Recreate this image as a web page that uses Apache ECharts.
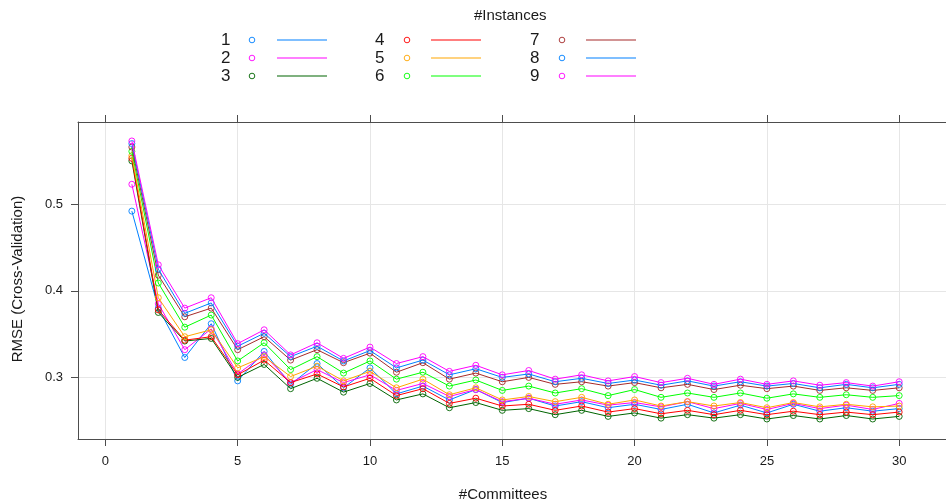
<!DOCTYPE html>
<html><head><meta charset="utf-8">
<script src="https://cdn.jsdelivr.net/npm/echarts@6/dist/echarts.min.js"></script>
<style>html,body{margin:0;padding:0;background:#fff}#c{width:946px;height:504px}</style>
</head><body><div id="c"></div>
<script>
const committees = [1,2,3,4,5,6,7,8,9,10,11,12,13,14,15,16,17,18,19,20,21,22,23,24,25,26,27,28,29,30];
const instanceNames = ['1','2','3','4','5','6','7','8','9'];
const rmse1 = [0.492,0.380,0.323,0.362,0.296,0.330,0.292,0.316,0.288,0.311,0.281,0.290,0.274,0.286,0.271,0.276,0.267,0.272,0.265,0.269,0.263,0.269,0.259,0.268,0.259,0.269,0.261,0.265,0.261,0.264];
const rmse2 = [0.523,0.385,0.332,0.356,0.304,0.326,0.294,0.309,0.294,0.303,0.285,0.293,0.278,0.286,0.272,0.276,0.269,0.274,0.268,0.271,0.266,0.272,0.264,0.270,0.263,0.270,0.264,0.268,0.263,0.270];
const rmse3 = [0.550,0.375,0.342,0.345,0.300,0.315,0.287,0.299,0.283,0.293,0.274,0.281,0.265,0.271,0.262,0.264,0.257,0.262,0.255,0.259,0.253,0.257,0.253,0.257,0.252,0.256,0.252,0.256,0.252,0.255];
const rmse4 = [0.553,0.378,0.343,0.347,0.303,0.320,0.294,0.304,0.289,0.299,0.279,0.287,0.270,0.276,0.267,0.269,0.262,0.267,0.260,0.264,0.258,0.262,0.257,0.262,0.257,0.261,0.257,0.260,0.257,0.260];
const rmse5 = [0.556,0.392,0.347,0.355,0.311,0.324,0.301,0.313,0.296,0.307,0.288,0.298,0.280,0.288,0.274,0.278,0.272,0.277,0.269,0.274,0.267,0.272,0.267,0.271,0.265,0.271,0.266,0.269,0.266,0.267];
const rmse6 = [0.561,0.409,0.358,0.372,0.319,0.340,0.309,0.324,0.305,0.319,0.298,0.306,0.290,0.297,0.285,0.290,0.282,0.287,0.279,0.286,0.277,0.282,0.277,0.282,0.276,0.281,0.277,0.280,0.277,0.279];
const rmse7 = [0.566,0.418,0.370,0.380,0.332,0.347,0.320,0.332,0.317,0.328,0.306,0.317,0.298,0.305,0.295,0.300,0.292,0.295,0.290,0.294,0.288,0.292,0.286,0.291,0.287,0.290,0.285,0.288,0.285,0.288];
const rmse8 = [0.570,0.425,0.374,0.386,0.336,0.351,0.324,0.336,0.319,0.331,0.311,0.320,0.303,0.310,0.300,0.304,0.295,0.299,0.293,0.297,0.291,0.296,0.290,0.295,0.290,0.293,0.288,0.292,0.288,0.292];
const rmse9 = [0.573,0.430,0.380,0.392,0.339,0.355,0.326,0.340,0.322,0.335,0.316,0.324,0.307,0.314,0.303,0.308,0.298,0.303,0.296,0.301,0.294,0.299,0.292,0.298,0.292,0.296,0.291,0.294,0.290,0.295];
const xTickValues = [0,5,10,15,20,25,30];
const yTickValues = [0.3,0.4,0.5];

const allSeries = [rmse1,rmse2,rmse3,rmse4,rmse5,rmse6,rmse7,rmse8,rmse9];
const colors = ['#0080ff','#ff00ff','#006400','#ff0000','#ffa500','#00ff00','#a52a2a','#0080ff','#ff00ff'];
const FONT = '"Liberation Sans", Arial, sans-serif';
const TXT = '#1a1a1a';
const AXC = '#4d4d4d';
const GRIDC = '#e6e6e6';

const series = allSeries.map((vals, i) => ({
  name: instanceNames[i],
  type: 'line',
  data: committees.map((c, j) => [c, vals[j]]),
  symbol: 'circle',
  symbolSize: 6,
  showAllSymbol: true,
  lineStyle: {width: 1, color: colors[i]},
  itemStyle: {color: 'rgba(0,0,0,0)', borderColor: colors[i], borderWidth: 0.9},
  emphasis: {disabled: true},
  z: 2 + i
}));

// legend drawn as graphic (number, circle, line)
const legendColX = [221, 375, 530];
const legendSymX = [252, 407, 562];
const legendLineX = [[277, 327], [431, 481], [586, 636]];
const legendRowY = [40, 58, 76];
const graphics = [];
graphics.push({type: 'text', left: 474, top: 8, style: {text: '#Instances', font: '15px ' + FONT, fill: TXT}});
instanceNames.forEach((n, i) => {
  const col = Math.floor(i / 3), row = i % 3;
  const y = legendRowY[row];
  graphics.push({type: 'text', x: legendColX[col], y: y, style: {text: n, font: '17px ' + FONT, fill: TXT, textVerticalAlign: 'middle', verticalAlign: 'middle'}});
  graphics.push({type: 'circle', shape: {cx: legendSymX[col], cy: y, r: 2.8}, style: {fill: 'rgba(0,0,0,0)', stroke: colors[i], lineWidth: 0.9}});
  graphics.push({type: 'line', shape: {x1: legendLineX[col][0], y1: y, x2: legendLineX[col][1], y2: y}, style: {stroke: colors[i], lineWidth: 1.2}});
});
graphics.push({type: 'text', x: 503, y: 495, style: {text: '#Committees', font: '15px ' + FONT, fill: TXT, align: 'center', verticalAlign: 'middle'}});
graphics.push({type: 'text', x: 18, y: 279, rotation: Math.PI / 2, style: {text: 'RMSE (Cross-Validation)', font: '15px ' + FONT, fill: TXT, align: 'center', verticalAlign: 'middle'}});

const GRID_W = 868;
const X_MIN = -1.035;
const X_MAX = X_MIN + GRID_W / 26.46;

const chart = echarts.init(document.getElementById('c'), null, {renderer: 'canvas'});
chart.setOption({
  animation: false,
  backgroundColor: '#fff',
  grid: {left: 78, top: 122, width: GRID_W, height: 317, show: false, containLabel: false},
  xAxis: [{
    type: 'value', min: X_MIN, max: X_MAX, position: 'bottom',
    axisLine: {show: true, onZero: false, lineStyle: {color: AXC, width: 1}},
    axisTick: {show: true, inside: false, length: 7, customValues: xTickValues, lineStyle: {color: AXC}},
    axisLabel: {show: true, customValues: xTickValues, margin: 16, color: TXT, fontSize: 13, fontFamily: FONT},
    splitLine: {show: true, lineStyle: {color: GRIDC, width: 1}},
    minorTick: {show: false}
  }, {
    type: 'value', min: X_MIN, max: X_MAX, position: 'top',
    axisLine: {show: true, onZero: false, lineStyle: {color: AXC, width: 1}},
    axisTick: {show: true, inside: false, length: 7, customValues: xTickValues, lineStyle: {color: AXC}},
    axisLabel: {show: false},
    splitLine: {show: false}
  }],
  yAxis: [{
    type: 'value', min: 0.2289, max: 0.5949,
    axisLine: {show: true, onZero: false, lineStyle: {color: AXC, width: 1}},
    axisTick: {show: true, inside: false, length: 7, customValues: yTickValues, lineStyle: {color: AXC}},
    axisLabel: {show: true, customValues: yTickValues, margin: 15, color: TXT, fontSize: 13, fontFamily: FONT, formatter: v => v.toFixed(1)},
    splitLine: {show: true, lineStyle: {color: GRIDC, width: 1}}
  }],
  graphic: graphics,
  series: series
});
</script></body></html>
